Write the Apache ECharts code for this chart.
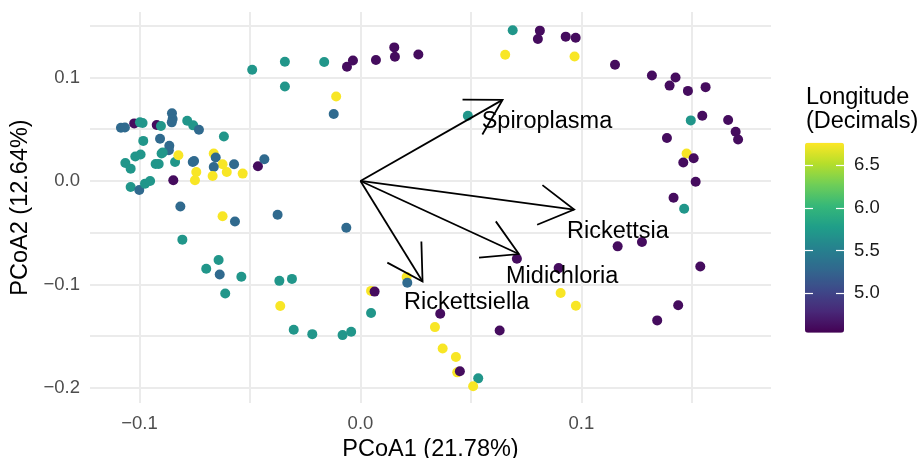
<!DOCTYPE html>
<html>
<head>
<meta charset="utf-8">
<style>
  html, body { margin: 0; padding: 0; background: #fff; }
  #chart { width: 921px; height: 458px; }
</style>
<script src="https://cdn.jsdelivr.net/npm/echarts@6/dist/echarts.min.js"></script>
</head>
<body>
<div id="chart"></div>
<script>
// PCoA 坐标
const pcoa1 = [
  -0.0490, -0.0342, -0.0164, -0.0342, -0.0061, -0.0034, 0.0070, -0.0110, -0.0121,
  -0.1084, -0.1066, -0.1024, -0.0998, -0.0986, -0.0922, -0.0903, -0.0853, -0.0850, -0.0854,
  -0.0784, -0.0757, -0.0731, -0.0618, -0.0983, -0.0907, -0.0865, -0.0867, -0.0895, -0.0900,
  -0.1019, -0.0995, -0.1064, -0.1040, -0.0927, -0.0913, -0.0839, -0.0824, -0.0759, -0.0753,
  -0.0664, -0.0655, -0.0624, -0.0664, -0.0669, -0.0605, -0.0572, -0.0533, -0.0743, -0.0749,
  -0.0847, -0.0464, -0.0435, -0.1040, -0.1001, -0.0975, -0.0952, -0.0815, -0.0624, -0.0568,
  -0.0375, -0.0064, -0.0806, -0.0642, -0.0698, -0.0637, -0.0539, -0.0612, -0.0367, -0.0310,
  -0.0363, -0.0302, -0.0218, -0.0081, -0.0042, 0.0048, 0.0064, 0.0048,
  0.0153, 0.0156, 0.0262, 0.0689, 0.0812, 0.0803, 0.0929, 0.0974, 0.0655, 0.0969,
  0.1152, 0.1319, 0.1426, 0.1399, 0.1482, 0.1562, 0.0486, 0.1495, 0.1547, 0.1664,
  0.1698, 0.1709, 0.1387, 0.1476, 0.1508, 0.1461, 0.1517, 0.1417, 0.1465,
  0.1164, 0.1274, 0.0708, 0.0897, 0.1538, 0.0209, 0.0212, 0.0906, 0.0975, 0.1438,
  0.1343, 0.0361, 0.0337, 0.0630, 0.0372, 0.0432, 0.0438, 0.0450, 0.0533, 0.0510,
];
const pcoa2 = [
  0.1074, 0.1151, 0.1149, 0.0912, 0.1103, 0.1164, 0.1169, 0.0815, 0.0647,
  0.0514, 0.0517, 0.0556, 0.0566, 0.0559, 0.0540, 0.0530, 0.0653, 0.0598, 0.0566,
  0.0582, 0.0537, 0.0494, 0.0430, 0.0387, 0.0407, 0.0339, 0.0297, 0.0275, 0.0265,
  0.0236, 0.0255, 0.0174, 0.0119, 0.0164, 0.0164, 0.0183, 0.0249, 0.0183, 0.0193,
  0.0265, 0.0226, 0.0161, 0.0135, 0.0048, 0.0086, 0.0161, 0.0071, 0.0086, 0.0006,
  0.0006, 0.0142, 0.0210, -0.0059, -0.0088, -0.0026, -0.0001, -0.0247, -0.0341, -0.0392,
  -0.0326, -0.0452, -0.0567, -0.0764, -0.0849, -0.0904, -0.0926, -0.1088, -0.0965, -0.0946,
  -0.1208, -0.1438, -0.1480, -0.1489, -0.1457, -0.1062, -0.1069, -0.1276,
  0.1290, 0.1200, 0.1222, 0.1455, 0.1452, 0.1372, 0.1394, 0.1384, 0.1219, 0.1203,
  0.1122, 0.1018, 0.0999, 0.0921, 0.0870, 0.0906, 0.0630, 0.0585, 0.0630, 0.0588,
  0.0475, 0.0401, 0.0414, 0.0265, 0.0219, 0.0178, -0.0007, -0.0162, -0.0269,
  -0.0632, -0.0589, -0.0751, -0.0842, -0.0826, -0.0929, -0.0984, -0.1082, -0.1205, -0.1201,
  -0.1347, -0.1283, -0.1412, -0.1444, -0.1618, -0.1700, -0.1849, -0.1839, -0.1907, -0.1984,
];
// 经度（十进制），由点的颜色估计
const longitude = [
  5.70, 5.70, 5.70, 5.70, 4.60, 4.60, 4.60, 6.75, 5.30,
  5.30, 5.30, 4.60, 5.70, 5.70, 4.60, 5.70, 5.30, 5.30, 5.30,
  5.70, 5.70, 5.30, 5.70, 5.70, 5.30, 5.30, 5.30, 5.70, 5.70,
  5.70, 5.70, 5.70, 5.70, 5.70, 5.70, 5.70, 6.75, 5.30, 5.30,
  6.75, 5.30, 6.75, 5.30, 6.75, 6.75, 5.30, 6.75, 6.75, 6.75,
  4.60, 4.60, 5.30, 5.70, 5.30, 5.70, 5.70, 5.30, 6.75, 5.30,
  5.30, 5.30, 5.70, 5.70, 5.70, 5.30, 5.70, 5.70, 5.70, 5.70,
  6.75, 5.70, 5.70, 5.70, 5.70, 6.75, 4.60, 5.70,
  4.60, 4.60, 4.60, 5.70, 4.60, 4.60, 4.60, 4.60, 6.75, 6.75,
  4.60, 4.60, 4.60, 4.60, 4.60, 4.60, 5.70, 5.70, 4.60, 4.60,
  4.60, 4.60, 4.60, 6.75, 4.60, 4.60, 4.60, 4.60, 5.70,
  4.60, 4.60, 4.60, 4.60, 4.60, 6.75, 5.30, 6.75, 6.75, 4.60,
  4.60, 4.60, 6.75, 4.60, 6.75, 6.75, 6.75, 4.60, 5.70, 6.75,
];

// 物种向量（箭头终点）与标签位置
const taxa = ["Spiroplasma", "Rickettsia", "Midichloria", "Rickettsiella"];
const arrowX = [0.0643, 0.0967, 0.0717, 0.0281];
const arrowY = [0.0783, -0.0276, -0.0706, -0.0972];
const labelX = [0.0844, 0.1165, 0.0913, 0.0481];
const labelY = [0.0588, -0.0475, -0.0909, -0.1167];

const xTicks = [-0.1, 0, 0.1];
const xGrid = [-0.1, -0.05, 0, 0.05, 0.1, 0.15];
const yTicks = [-0.2, -0.1, 0, 0.1];
const yGrid = [-0.2, -0.15, -0.1, -0.05, 0, 0.05, 0.1, 0.15];
const lonTicks = [5.0, 5.5, 6.0, 6.5];
const lonRange = [4.533, 6.766];

const viridis = ["#440154", "#482878", "#3e4989", "#31688e", "#26828e",
                 "#1f9e89", "#35b779", "#6ece58", "#b5de2b", "#fde725"];

const FONT = "Liberation Sans, Arial, Helvetica, sans-serif";
const fmtAxis = v => (Math.abs(v) < 1e-9 ? "0.0" : (v < 0 ? "\u2212" : "") + Math.abs(v).toFixed(1));

const chart = echarts.init(document.getElementById("chart"), null, { renderer: "canvas" });

function renderArrow(params, api) {
  const start = api.coord([0, 0]);
  const end = api.coord([api.value(0), api.value(1)]);
  const txt = api.coord([api.value(2), api.value(3)]);
  const ang = Math.atan2(end[1] - start[1], end[0] - start[0]);
  const len = 40, spread = Math.PI / 6;
  const b1 = [end[0] - len * Math.cos(ang - spread), end[1] - len * Math.sin(ang - spread)];
  const b2 = [end[0] - len * Math.cos(ang + spread), end[1] - len * Math.sin(ang + spread)];
  const style = { stroke: "#000", lineWidth: 1.8, fill: null };
  return {
    type: "group",
    children: [
      { type: "line", shape: { x1: start[0], y1: start[1], x2: end[0], y2: end[1] }, style },
      { type: "polyline", shape: { points: [b1, end, b2] }, style },
      { type: "text", x: txt[0], y: txt[1] + 1,
        style: { text: taxa[params.dataIndex], fill: "#000", fontSize: 23.5, fontFamily: FONT,
                 align: "center", verticalAlign: "middle" } },
    ],
  };
}

const splitStyle = { color: "#ebebeb", width: 2 };

chart.setOption({
  animation: false,
  backgroundColor: "#fff",
  title: {
    text: "Longitude\n(Decimals)", left: 806, top: 85, padding: 0,
    textStyle: { fontSize: 23.5, lineHeight: 24.5, fontWeight: "normal", color: "#000", fontFamily: FONT },
  },
  grid: [
    { left: 90, right: 150, top: 12, bottom: 55, outerBoundsMode: "none", containLabel: false },
    { left: 805, top: 142.7, width: 39, height: 190, outerBoundsMode: "none", containLabel: false },
  ],
  xAxis: [
    {
      type: "value", min: -0.1224, max: 0.1858, gridIndex: 0,
      name: "PCoA1 (21.78%)", nameLocation: "middle", nameGap: 34,
      nameTextStyle: { fontSize: 23.5, color: "#000", fontFamily: FONT },
      axisLine: { show: false },
      axisTick: { show: false, customValues: xGrid },
      axisLabel: { customValues: xTicks, formatter: fmtAxis, margin: 11,
                   fontSize: 18.5, color: "#4d4d4d", fontFamily: FONT },
      splitLine: { show: true, lineStyle: splitStyle },
    },
    { type: "value", gridIndex: 1, show: false, min: 0, max: 1 },
  ],
  yAxis: [
    {
      type: "value", min: -0.2145, max: 0.1632, gridIndex: 0,
      name: "PCoA2 (12.64%)", nameLocation: "middle", nameGap: 56,
      nameTextStyle: { fontSize: 23.5, color: "#000", fontFamily: FONT },
      axisLine: { show: false },
      axisTick: { show: false, customValues: yGrid },
      axisLabel: { customValues: yTicks, formatter: fmtAxis, margin: 10,
                   fontSize: 18.5, color: "#4d4d4d", fontFamily: FONT },
      splitLine: { show: true, lineStyle: splitStyle },
    },
    {
      type: "value", gridIndex: 1, position: "left", min: lonRange[0], max: lonRange[1], z: 10,
      axisLine: { show: false },
      axisTick: { show: true, inside: true, length: 8, customValues: lonTicks,
                  lineStyle: { color: "#fff", width: 1.2 } },
      axisLabel: { show: false },
      splitLine: { show: false },
    },
    {
      type: "value", gridIndex: 1, position: "right", min: lonRange[0], max: lonRange[1], z: 10,
      axisLine: { show: false },
      axisTick: { show: true, inside: true, length: 8, customValues: lonTicks,
                  lineStyle: { color: "#fff", width: 1.2 } },
      axisLabel: { customValues: lonTicks, formatter: v => (+v).toFixed(1), margin: 10,
                   fontSize: 18.5, color: "#1a1a1a", fontFamily: FONT },
      splitLine: { show: false },
    },
  ],
  visualMap: {
    type: "continuous", min: lonRange[0], max: lonRange[1], dimension: 2, seriesIndex: 0,
    left: 805, top: 142.7, itemWidth: 39, itemHeight: 190, padding: 0,
    calculable: false, hoverLink: false, text: null,
    inRange: { color: viridis },
  },
  series: [
    {
      type: "scatter", xAxisIndex: 0, yAxisIndex: 0,
      symbolSize: 10,
      data: pcoa1.map((x, i) => [x, pcoa2[i], longitude[i]]),
      itemStyle: { opacity: 1 },
      emphasis: { disabled: true },
      z: 2,
    },
    {
      type: "custom", xAxisIndex: 0, yAxisIndex: 0,
      renderItem: renderArrow,
      data: taxa.map((t, i) => [arrowX[i], arrowY[i], labelX[i], labelY[i]]),
      silent: true,
      z: 3,
    },
  ],
});
</script>
</body>
</html>
